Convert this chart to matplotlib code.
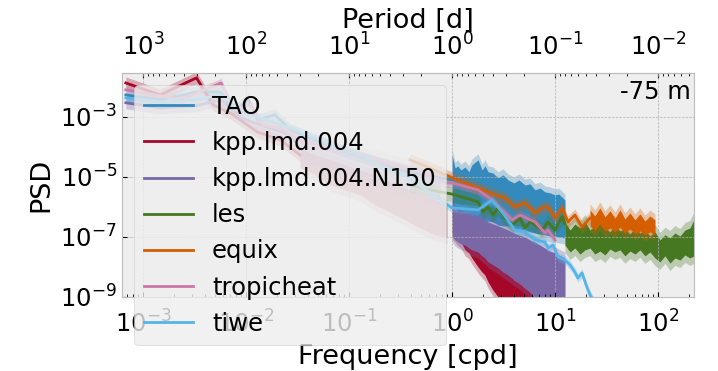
import matplotlib.pyplot as plt
import numpy as np

plt.style.use('bmh')
plt.rcParams['font.size'] = 17.5
plt.rcParams['axes.labelsize'] = 19.5
plt.rcParams['mathtext.fontset'] = 'dejavusans'

###############################################################################
# Data: frequency in cpd, PSD as log10 values

names = ['TAO', 'kpp.lmd.004', 'kpp.lmd.004.N150', 'les', 'equix',
         'tropicheat', 'tiwe']
colors = ['#348ABD', '#A60628', '#7A68A6', '#467821', '#D55E00',
          '#CC79A7', '#56B4E9']
ci_dex = [0.2, 0.2, 0.2, 0.25, 0.2, 0.15, 0.15]   # half width of the CI band

# smooth (low resolution) parts
tao_f = [6.8e-4, 1.46e-3, 3.3e-3, 5.7e-3, 7.5e-3, 0.0105, 0.013, 0.019, 0.027,
         0.042, 0.082, 0.16, 0.31, 0.61, 1.0]
tao_p = [-2.27, -2.43, -2.17, -2.17, -2.83, -2.43, -3.10, -2.93, -3.43,
         -3.70, -4.10, -4.43, -4.77, -4.97, -5.10]

kpp_f = [6.8e-4, 1.46e-3, 3.3e-3, 4.8e-3, 7.5e-3, 0.0128, 0.0215, 0.0334]
kpp_p = [-1.87, -2.27, -1.70, -2.60, -2.93, -3.50, -3.77, -4.27]

n150_f = [6.8e-4, 1.46e-3, 3.3e-3, 5.7e-3, 9e-3, 0.0137, 0.027, 0.0334]
n150_p = [-2.53, -2.70, -2.63, -2.43, -3.03, -3.27, -3.60, -4.05]

les_f = [0.39, 0.61, 0.86, 1.0, 1.79, 2.0, 2.24, 2.5, 2.8, 3.27, 3.9, 4.57,
         5.12, 5.72, 6.4, 7.5, 8.55, 10.0, 11.7, 12.5]
les_p = [-5.27, -5.43, -5.53, -5.57, -5.83, -6.17, -6.00, -6.27, -6.03, -6.37,
         -6.60, -6.37, -6.70, -6.50, -6.60, -6.77, -6.50, -6.77, -6.33, -6.55]

equix_f = [0.39, 0.61, 0.86, 1.0, 1.79, 2.6, 3.27, 4.09, 5.12, 6.4, 7.5, 8.55,
           10.0, 11.7, 13.4, 15.6, 18.3, 21.9]
equix_p = [-4.43, -4.70, -4.93, -5.03, -5.37, -5.60, -5.70, -6.00, -5.87,
           -6.20, -6.03, -6.00, -6.37, -6.03, -6.50, -6.27, -6.67, -6.37]

tropic_f = [6.8e-4, 1.46e-3, 2.3e-3, 5.7e-3, 7.8e-3, 0.011, 0.0144, 0.0215,
            0.034, 0.082, 0.2, 0.49, 0.86, 1.0, 1.79, 2.45, 3.83, 4.57, 6.4,
            8.0, 8.55, 10.0]
tropic_p = [-2.10, -2.30, -2.43, -1.87, -2.77, -2.60, -3.27, -3.37, -3.83,
            -4.10, -4.50, -4.83, -5.20, -5.20, -5.43, -5.77, -6.43, -6.27,
            -6.50, -6.87, -6.77, -7.10]

tiwe_f = [6.8e-4, 1.46e-3, 3.3e-3, 5.7e-3, 9e-3, 0.0137, 0.027, 0.066, 0.16,
          0.39, 0.76, 1.0, 1.79, 2.45, 3.06, 4.09, 5.12, 6.4, 8.0, 8.55, 9.6,
          10.7, 12.5, 14.0, 15.6, 16.7, 18.3, 20.4, 21.9, 25.0]
tiwe_p = [-2.37, -2.50, -2.43, -2.27, -2.83, -3.03, -3.37, -3.93, -4.43,
          -5.03, -5.77, -6.03, -6.10, -5.77, -6.17, -6.77, -6.83, -7.10,
          -7.17, -7.37, -7.27, -7.67, -7.77, -7.93, -8.17, -8.37, -8.20,
          -8.67, -8.93, -9.27]

# noisy (high resolution) parts: lower / upper envelope of the raw spectrum
hf_f = [1.0, 1.07, 1.14, 1.22, 1.34, 1.46, 1.56, 1.79, 1.96, 2.09, 2.24, 2.5,
        2.8, 3.13, 3.5, 4.0, 4.47, 5.12, 5.72, 6.4, 7.15, 8.0, 8.94, 10.0,
        10.9, 12.5]
tao_hi = [-4.27, -4.70, -4.63, -4.77, -4.67, -4.83, -4.60, -4.43, -4.77,
          -4.63, -4.83, -4.87, -5.03, -4.93, -5.10, -5.20, -5.10, -5.27,
          -5.23, -5.43, -5.37, -5.50, -5.53, -5.60, -5.57, -5.77]
tao_lo = [-6.10, -6.03, -6.17, -6.23, -6.17, -6.30, -6.27, -6.37, -6.43,
          -6.50, -6.47, -6.50, -6.60, -6.63, -6.63, -6.70, -6.73, -6.77,
          -6.83, -6.87, -6.90, -6.93, -6.97, -6.97, -7.00, -7.03]
n150_hi = [-6.03, -6.10, -6.17, -6.13, -6.17, -6.23, -6.27, -6.33, -6.40,
           -6.47, -6.50, -6.57, -6.63, -6.70, -6.77, -6.87, -6.93, -7.00,
           -7.10, -7.17, -7.27, -7.37, -7.47, -7.53, -7.60, -7.70]
n150_lo = [-6.97, -7.10, -7.17, -7.23, -7.27, -7.37, -7.43, -7.50, -7.63,
           -7.70, -7.83, -7.93, -8.03, -8.17, -8.27, -8.43, -8.53, -8.70,
           -8.83, -9.00, -9.10, -9.20, -9.27, -9.33, -9.40, -9.43]
kpp_hf_f = hf_f[:21]
kpp_hi = [-5.93, -6.17, -6.27, -6.20, -6.53, -6.60, -6.77, -7.03, -7.20,
          -7.33, -7.70, -7.50, -7.60, -7.83, -8.03, -8.43, -8.53, -8.70,
          -8.83, -9.03, -9.10]
kpp_lo = [-6.87, -6.97, -7.10, -7.17, -7.43, -7.53, -7.70, -8.00, -8.17,
          -8.27, -8.50, -8.77, -9.00, -9.10, -9.20, -9.30, -9.43, -9.53,
          -9.60, -9.70, -9.77]

# noisy parts below 1 cpd (faint, mostly behind the legend)
kpp_mf_f = [0.0334, 0.0468, 0.0654, 0.0914, 0.128, 0.179, 0.25, 0.35, 0.489,
            0.684, 0.894]
kpp_mf_hi = [-4.03, -4.27, -4.43, -4.60, -4.77, -4.93, -5.17, -5.37, -5.60,
             -5.77, -5.93]
kpp_mf_lo = [-4.70, -4.93, -5.27, -5.43, -5.60, -5.93, -6.17, -6.43, -6.70,
             -6.93, -7.03]
n150_mf_f = [0.0334, 0.0654, 0.128, 0.25, 0.489, 0.765]
n150_mf_hi = [-3.70, -3.93, -4.17, -4.43, -4.70, -5.10]
n150_mf_lo = [-4.43, -4.77, -5.03, -5.30, -5.60, -5.93]

les_hf_f = [12.5, 14.0, 15.6, 17.5, 19.6, 21.9, 24.4, 27.3, 30.6, 34.2, 38.3,
            42.8, 47.8, 53.5, 59.8, 66.9, 74.8, 83.6, 93.5, 104.5, 116.9,
            130.8, 146.2, 163.6, 182.9, 204.5, 223.6]
les_hi = [-6.50, -6.77, -6.57, -6.70, -6.50, -6.77, -6.63, -6.47, -6.70,
          -6.83, -6.63, -6.80, -6.73, -6.90, -6.70, -6.87, -6.77, -6.97,
          -6.83, -7.10, -6.93, -7.03, -6.87, -6.97, -6.77, -6.70, -6.43]
les_lo = [-7.27, -7.50, -7.37, -7.57, -7.43, -7.37, -7.57, -7.47, -7.60,
          -7.40, -7.50, -7.43, -7.63, -7.47, -7.57, -7.43, -7.63, -7.50,
          -7.70, -7.83, -7.63, -7.87, -7.70, -7.77, -7.60, -7.70, -7.63]

equix_hf_f = [21.9, 24.4, 27.3, 30.6, 34.2, 38.3, 42.8, 47.8, 53.5, 59.8,
              66.9, 74.8, 83.6, 93.5]
equix_hi = [-6.10, -6.30, -6.03, -6.33, -6.13, -6.37, -6.10, -6.40, -6.20,
            -6.43, -6.23, -6.47, -6.30, -6.43]
equix_lo = [-6.63, -6.77, -6.57, -6.80, -6.70, -6.83, -6.67, -6.87, -6.73,
            -6.90, -6.80, -6.93, -6.83, -6.93]

lines = [(tao_f, tao_p), (kpp_f, kpp_p), (n150_f, n150_p), (les_f, les_p),
         (equix_f, equix_p), (tropic_f, tropic_p), (tiwe_f, tiwe_p)]
# (freq, lower, upper, opacity)
noisy = [[(hf_f, tao_lo, tao_hi, 1.0)],
         [(kpp_mf_f, kpp_mf_lo, kpp_mf_hi, 0.35),
          (kpp_hf_f, kpp_lo, kpp_hi, 1.0)],
         [(n150_mf_f, n150_mf_lo, n150_mf_hi, 0.3),
          (hf_f, n150_lo, n150_hi, 1.0)],
         [(les_hf_f, les_lo, les_hi, 1.0)],
         [(equix_hf_f, equix_lo, equix_hi, 1.0)],
         [], []]

###############################################################################
# Plot

fig = plt.figure(figsize=(7.18, 3.71), dpi=100)
ax = fig.add_axes([0.170, 0.1995, 0.7966, 0.6038])

handles = []
for name, c, ci, (f, p), segs in zip(names, colors, ci_dex, lines, noisy):
    p = np.array(p)
    for fs, lo, hi, a in segs:
        lo, hi = np.array(lo), np.array(hi)
        ax.fill_between(fs, 10**(lo - ci), 10**(hi + ci), color=c,
                        alpha=0.3 * a, lw=0)
        ax.fill_between(fs, 10**lo, 10**hi, color=c, alpha=a, lw=0)
    ax.fill_between(f, 10**(p - ci), 10**(p + ci), color=c, alpha=0.3, lw=0)
    h, = ax.plot(f, 10**p, color=c, lw=2, label=name)
    handles.append(h)

ax.set_xscale('log')
ax.set_yscale('log')
ax.set_xlim(6.25e-4, 224)
ax.set_ylim(1e-9, 2.9e-2)
ax.set_yticks([1e-9, 1e-7, 1e-5, 1e-3])
ax.yaxis.set_minor_locator(plt.NullLocator())
ax.tick_params(axis='x', pad=10)
ax.set_xlabel('Frequency [cpd]')
ax.set_ylabel('PSD')


def inv(x):
    x = np.array(x, float)
    with np.errstate(divide='ignore'):
        return 1 / x


secax = ax.secondary_xaxis('top', functions=(inv, inv))
secax.set_xticks([1e3, 1e2, 1e1, 1e0, 1e-1, 1e-2])
secax.tick_params(pad=9)
secax.set_xlabel('Period [d]')

ax.text(0.995, 0.97, '-75 m', transform=ax.transAxes, ha='right', va='top')
ax.legend(handles=handles, loc='upper left')

fig.savefig('out.png', dpi=100)
